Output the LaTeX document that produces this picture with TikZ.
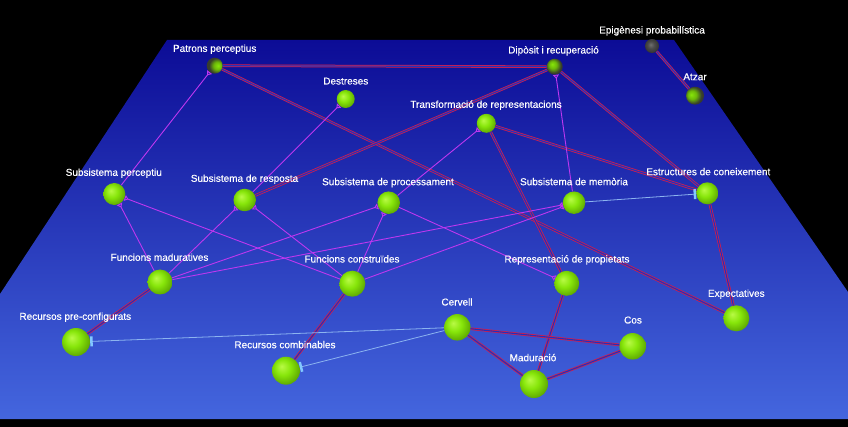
\documentclass[tikz,border=0pt]{standalone}
\usepackage{fontspec}
\setmainfont{Liberation Sans}
\newfontfamily\lblfont[FakeBold=0.4]{Liberation Sans}
\usetikzlibrary{arrows.meta}

\definecolor{planetop}{RGB}{12,12,150}
\definecolor{planemid}{RGB}{32,50,190}
\definecolor{planebot}{RGB}{68,102,222}
\definecolor{sphlight}{RGB}{185,250,70}
\definecolor{sphgreen}{RGB}{135,230,10}
\definecolor{sphdark}{RGB}{85,155,0}
\definecolor{sphshadow}{RGB}{55,60,45}
\definecolor{sphgrey}{RGB}{75,75,75}
\definecolor{linkred}{RGB}{215,28,72}
\definecolor{linkmag}{RGB}{190,55,240}
\definecolor{linkblue}{RGB}{140,180,240}
\definecolor{barblue}{RGB}{130,200,255}

% sphere shadings (ball radius is about 25bp)
\pgfdeclareradialshading{greenball}{\pgfpoint{-8bp}{8bp}}{%
  color(0bp)=(sphlight); color(14bp)=(sphgreen);
  color(32bp)=(sphdark); color(50bp)=(sphdark)}
\pgfdeclareradialshading{dimball}{\pgfpoint{-8bp}{8bp}}{%
  color(0bp)=(sphgreen); color(12bp)=(sphgreen!80!black);
  color(24bp)=(sphshadow); color(50bp)=(sphshadow)}
\pgfdeclareradialshading{greyball}{\pgfpoint{-5bp}{5bp}}{%
  color(0bp)=(sphgrey!80!white); color(12bp)=(sphgrey); color(30bp)=(sphgrey!60!black);
  color(50bp)=(sphgrey!60!black)}

\begin{document}
\begin{tikzpicture}[x=1pt, y=-1pt,
    ball/.style={circle, inner sep=0pt, shading=greenball},
    farball/.style={circle, inner sep=0pt, shading=dimball},
    lbl/.style={text=white, font=\lblfont\fontsize{10}{12}\selectfont, inner sep=0pt, text height=7pt, text depth=0pt},
    redlink/.style={draw=linkred, line width=0.75pt, double=planemid, double distance=1.1pt},
    maglink/.style={draw=linkmag, line width=0.9pt, -{Triangle[open, reversed, length=4pt, width=6pt]}},
    bluelink/.style={draw=linkblue, line width=0.8pt, -{Bar[width=10pt, line width=2.5pt, color=barblue]}}
  ]

  % Background and plane
  \fill[black] (0,0) rectangle (848,427);
  \shade[top color=planetop, middle color=planemid, bottom color=planebot]
    (167,40) -- (674,40) -- (848,292) -- (848,419) -- (0,419) -- (0,294) -- cycle;

  % Back row
  \node[farball, shading angle=-135, minimum size=16pt] (patrons) at (214.7,65.7) {};
  \node[ball, minimum size=18pt] (destreses) at (345.7,99) {};
  \node[farball, minimum size=16pt] (diposit) at (554.7,66.7) {};
  \node[circle, inner sep=0pt, shading=greyball, minimum size=14pt] (epig) at (652,46) {};
  \node[farball, shading angle=30, minimum size=18pt] (atzar) at (695,95.7) {};
  \node[ball, minimum size=19pt] (transf) at (486.3,123.3) {};

  % Subsistemes
  \node[ball, minimum size=22pt] (percep) at (114.3,194) {};
  \node[ball, minimum size=22.5pt] (resposta) at (244.7,200) {};
  \node[ball, minimum size=22.5pt] (proces) at (388.7,202.7) {};
  \node[ball, minimum size=22.5pt] (memoria) at (574,202.7) {};
  \node[ball, minimum size=22pt] (estruct) at (707.3,193.3) {};

  % Funcions
  \node[ball, minimum size=25pt] (fmadur) at (160,282) {};
  \node[ball, minimum size=26pt] (fconst) at (352.3,283.7) {};
  \node[ball, minimum size=25pt] (reprop) at (566.7,283.3) {};
  \node[ball, minimum size=26pt] (expect) at (736.3,318.3) {};

  % Front row
  \node[ball, minimum size=28pt] (recpre) at (76,342) {};
  \node[ball, minimum size=28pt] (reccomb) at (286,370.7) {};
  \node[ball, minimum size=26.5pt] (cervell) at (457.3,327.3) {};
  \node[ball, minimum size=26.5pt] (cos) at (632.7,346.3) {};
  \node[ball, minimum size=28pt] (madur) at (534,384) {};

  % Red links
  \draw[redlink] (patrons) -- (diposit);
  \draw[redlink] (patrons) -- (expect);
  \draw[redlink] (diposit) -- (resposta);
  \draw[redlink] (diposit) -- (estruct);
  \draw[redlink] (transf) -- (estruct);
  \draw[redlink] (transf) -- (reprop);
  \draw[redlink] (reprop) -- (madur);
  \draw[redlink] (estruct) -- (expect);
  \draw[redlink] (cervell) -- (cos);
  \draw[redlink] (cervell) -- (madur);
  \draw[redlink] (madur) -- (cos);
  \draw[redlink] (fmadur) -- (recpre);
  \draw[redlink] (fconst) -- (reccomb);
  \draw[redlink] (epig) -- (atzar);

  % Magenta links
  \draw[maglink] (percep) -- (patrons);
  \draw[maglink] (resposta) -- (destreses);
  \draw[maglink] (proces) -- (transf);
  \draw[maglink] (memoria) -- (diposit);
  \draw[maglink] (fmadur) -- (percep);
  \draw[maglink] (fconst) -- (percep);
  \draw[maglink] (fmadur) -- (resposta);
  \draw[maglink] (fconst) -- (resposta);
  \draw[maglink] (fmadur) -- (proces);
  \draw[maglink] (fconst) -- (proces);
  \draw[maglink] (fmadur) -- (memoria);
  \draw[maglink] (fconst) -- (memoria);
  \draw[maglink] (proces) -- (reprop);

  % Blue links
  \draw[bluelink] (cervell) -- (recpre);
  \draw[bluelink] (cervell) -- (reccomb);
  \draw[bluelink] (memoria) -- (estruct);

  % Labels
  \node[lbl] (patronsl) at (214.7,48.3) {Patrons perceptius};
  \node[lbl] (destresesl) at (345.8,81) {Destreses};
  \node[lbl] (dipositl) at (553.5,50) {Dipòsit i recuperació};
  \node[lbl] (epigl) at (652,30) {Epigènesi probabilística};
  \node[lbl] (atzarl) at (695,76.7) {Atzar};
  \node[lbl] (transfl) at (486,104.3) {Transformació de representacions};
  \node[lbl] (percepl) at (113.8,172.3) {Subsistema perceptiu};
  \node[lbl] (respostal) at (244.5,178.3) {Subsistema de resposta};
  \node[lbl] (procesl) at (388,181.7) {Subsistema de processament};
  \node[lbl] (memorial) at (574,181.7) {Subsistema de memòria};
  \node[lbl] (estructl) at (708.3,171.7) {Estructures de coneixement};
  \node[lbl] (fmadurl) at (159.5,257.3) {Funcions maduratives};
  \node[lbl] (fconstl) at (352,259) {Funcions construïdes};
  \node[lbl] (repropl) at (567,259) {Representació de propietats};
  \node[lbl] (expectl) at (736.3,293.3) {Expectatives};
  \node[lbl] (recprel) at (75.3,316.3) {Recursos pre-configurats};
  \node[lbl] (reccombl) at (285,344.7) {Recursos combinables};
  \node[lbl] (cervelll) at (457,302) {Cervell};
  \node[lbl] (cosl) at (633,320) {Cos};
  \node[lbl] (madurl) at (533,357.7) {Maduració};

\end{tikzpicture}
\end{document}
